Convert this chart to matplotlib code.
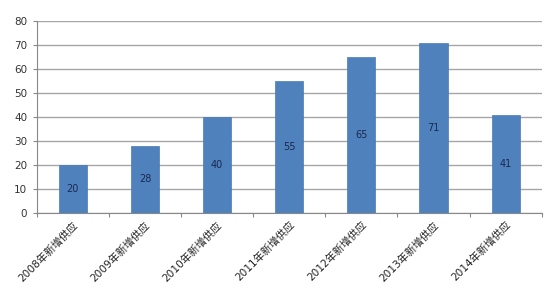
import matplotlib
matplotlib.use("Agg")
import matplotlib.pyplot as plt
import numpy as np

plt.rcParams['font.family'] = ['DejaVu Sans', 'Noto Sans CJK SC']

# data
categories = ["2008年新增供应", "2009年新增供应", "2010年新增供应", "2011年新增供应",
              "2012年新增供应", "2013年新增供应", "2014年新增供应"]
values = [20, 28, 40, 55, 65, 71, 41]
yticks = [0, 10, 20, 30, 40, 50, 60, 70, 80]

fig = plt.figure(figsize=(5.5, 3.0), dpi=100)
ax = fig.add_axes([0.067, 0.29, 0.918, 0.64])

x = np.arange(len(categories))
bars = ax.bar(x, values, width=0.39, color="#4f81bd", edgecolor="#4a7ab5",
              linewidth=0.5, zorder=3)

for xi, v in zip(x, values):
    ax.text(xi, v / 2, str(v), ha="center", va="center", fontsize=7,
            color="#1a2a50", zorder=4)

ax.set_xlim(-0.5, len(categories) - 0.5)
ax.set_ylim(0, 80)
ax.set_yticks(yticks)
ax.set_yticklabels([str(t) for t in yticks], fontsize=7.5, color="#333333")
ax.yaxis.grid(True, color="#a6a6a6", linewidth=1.0, zorder=0)
ax.tick_params(axis="y", length=3, color="#888888", pad=4)

# category ticks between bars
ax.set_xticks(np.arange(-0.5, len(categories), 1.0), minor=False)
ax.set_xticklabels([])
ax.tick_params(axis="x", length=3, color="#888888")
ax.set_xticks(x, minor=True)
ax.set_xticklabels(categories, minor=True, rotation=45, ha="right",
                   rotation_mode="anchor", fontsize=7.6,
                   family=['DejaVu Sans', 'Noto Sans CJK SC'], color="#222222")
ax.tick_params(axis="x", which="minor", length=0, pad=5)

for side in ["top", "right"]:
    ax.spines[side].set_visible(False)
for side in ["left", "bottom"]:
    ax.spines[side].set_color("#888888")
    ax.spines[side].set_linewidth(0.8)

fig.savefig("out.png", dpi=100)
